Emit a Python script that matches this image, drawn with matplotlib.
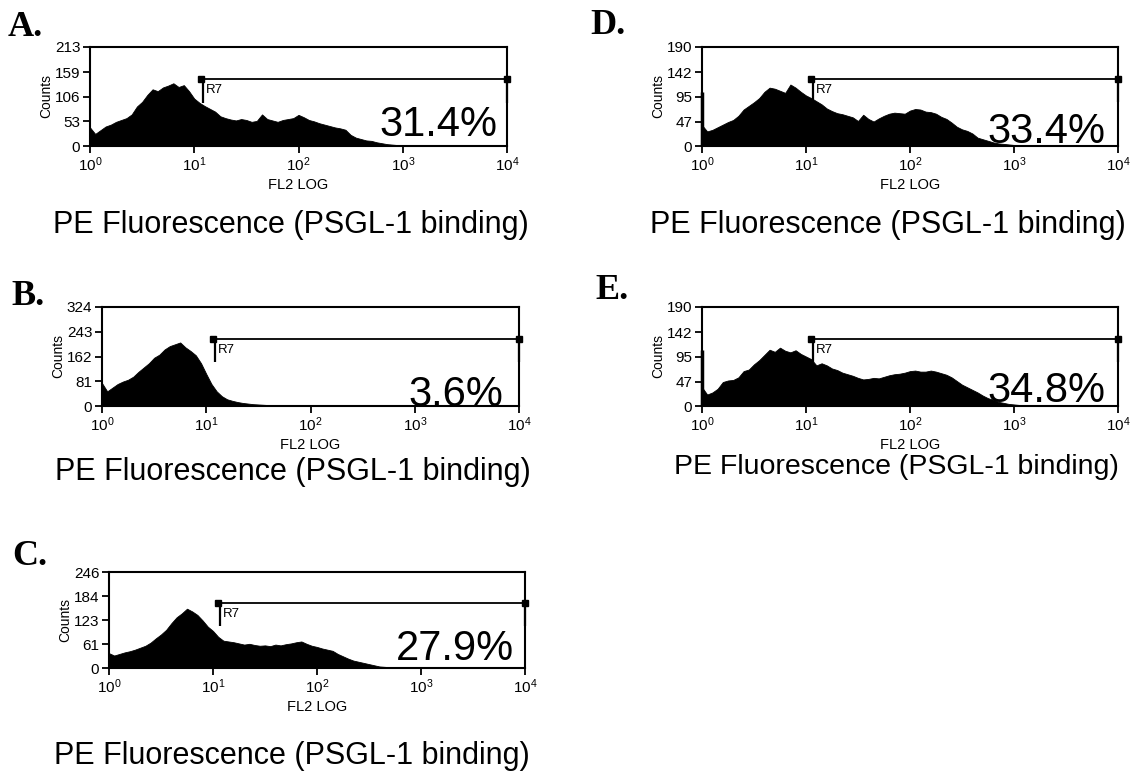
import matplotlib
matplotlib.use('Agg')
import matplotlib.pyplot as plt
from matplotlib.ticker import NullLocator
import numpy as np

plt.rcParams['font.family'] = 'Liberation Sans'
plt.rcParams['mathtext.fontset'] = 'custom'
plt.rcParams['mathtext.rm'] = 'Liberation Sans'

W, H = 1138, 771

# ---- data ----
panel_letters = ['A.', 'B.', 'C.', 'D.', 'E.']
percents = ['31.4%', '3.6%', '27.9%', '33.4%', '34.8%']
y_ticks = [
    [0, 53, 106, 159, 213],
    [0, 81, 162, 243, 324],
    [0, 61, 123, 184, 246],
    [0, 47, 95, 142, 190],
    [0, 47, 95, 142, 190],
]
x_ticks = [1, 10, 100, 1000, 10000]
x_tick_labels = [r'$\mathregular{10^{0}}$', r'$\mathregular{10^{1}}$', r'$\mathregular{10^{2}}$',
                 r'$\mathregular{10^{3}}$', r'$\mathregular{10^{4}}$']

# R7 gate: start channel, level, how far the end bars drop
gate_start = [11.5, 11.5, 11.2, 11.2, 11.2]
gate_level = [144, 219, 167, 128, 128]
gate_drop = [92, 144, 107, 85, 85]

# counts every 0.05 decade, starting at 10^0
counts_A = [40, 26, 34, 42, 46, 52, 56, 60, 68, 85, 95, 110, 122, 118, 126, 130, 135, 127, 131, 118,
            102, 93, 86, 80, 74, 64, 60, 57, 55, 58, 56, 52, 54, 68, 58, 55, 52, 56, 58, 60,
            67, 62, 56, 53, 49, 46, 43, 40, 38, 35, 24, 18, 15, 12, 11, 8, 6, 4, 3, 2, 1, 0]
counts_B = [75, 48, 60, 72, 80, 86, 96, 112, 126, 140, 158, 168, 185, 196, 202, 208, 192, 180, 166, 140,
            105, 72, 48, 32, 22, 17, 13, 10, 8, 6, 5, 4, 3, 2, 2, 1, 1, 1, 0]
counts_C = [38, 32, 36, 40, 43, 47, 52, 57, 65, 76, 86, 98, 115, 130, 140, 152, 145, 136, 122, 106,
            95, 80, 70, 68, 66, 63, 60, 62, 59, 57, 58, 56, 60, 58, 61, 63, 66, 68, 62, 57,
            54, 50, 47, 44, 36, 30, 24, 19, 16, 13, 10, 7, 4, 3, 2, 2, 1, 1, 1, 0]
counts_D = [40, 28, 31, 36, 41, 46, 50, 58, 70, 77, 84, 92, 104, 112, 110, 106, 102, 118, 112, 104,
            97, 92, 86, 80, 72, 67, 63, 61, 58, 55, 48, 60, 52, 47, 53, 58, 62, 64, 63, 62,
            68, 71, 70, 66, 65, 62, 56, 52, 45, 37, 32, 29, 24, 16, 13, 10, 7, 5, 4, 3,
            2, 1, 1, 0]
counts_E = [36, 22, 26, 33, 46, 49, 50, 55, 67, 70, 80, 88, 98, 108, 104, 112, 106, 103, 107, 100,
            95, 90, 78, 82, 78, 72, 69, 64, 61, 58, 54, 51, 52, 54, 53, 56, 59, 61, 62, 64,
            67, 68, 66, 66, 68, 66, 63, 60, 55, 48, 41, 36, 31, 26, 20, 15, 12, 8, 6, 4,
            3, 2, 1, 0]
all_counts = [counts_A, counts_B, counts_C, counts_D, counts_E]
# spike in the very first channel (D and E only)
first_channel = [None, None, None, 104, 107]

# ---- layout (pixels of the 1138x771 picture) ----
axes_px = [(90, 507, 47, 146), (102, 519, 307, 406), (109, 525, 572, 668),
           (702, 1118, 47, 146), (702, 1118, 307, 406)]
letter_px = [(8, 36), (11, 305), (12, 565), (590, 34), (595, 299)]
caption_px = [(291, 225, 22), (293, 472, 22), (292, 756, 22), (888, 225, 22), (896, 467, 20.5)]
pct_pos = [(0.978, 0.10), (0.962, 0.0), (0.974, 0.083), (0.969, 0.03), (0.969, 0.04)]


def fx(x):
    return x / W


def fy(y):
    return 1 - y / H


fig = plt.figure(figsize=(W / 100, H / 100), dpi=100)

for i in range(5):
    x0, x1, top, bot = axes_px[i]
    ax = fig.add_axes([fx(x0), fy(bot), (x1 - x0) / W, (bot - top) / H])
    vals = all_counts[i]
    xs = 10 ** (0.05 * np.arange(len(vals)))
    ax.fill_between(xs, 0, vals, color='black', linewidth=0.6, edgecolor='black')
    if first_channel[i] is not None:
        ax.vlines(1.0, 0, first_channel[i], color='black', linewidth=2.5, clip_on=False)

    # gate R7
    g0 = gate_start[i]
    ax.plot([g0, 10000], [gate_level[i], gate_level[i]], color='black', lw=1.3, clip_on=False)
    ax.plot([g0, 10000], [gate_level[i], gate_level[i]], 's', color='black', ms=4, clip_on=False)
    ax.vlines([g0 * 1.05, 10000], gate_drop[i], gate_level[i], color='black', lw=1.6, clip_on=False)
    ax.text(g0 * 1.12, gate_level[i] - 0.05 * y_ticks[i][-1], 'R7', fontsize=9.5, va='top', ha='left')

    px, py = pct_pos[i]
    ax.text(px, py, percents[i], transform=ax.transAxes, fontsize=30, ha='right', va='baseline')

    ax.set_xscale('log')
    ax.set_xlim(1, 10000)
    ax.set_ylim(0, y_ticks[i][-1])
    ax.set_xticks(x_ticks)
    ax.set_xticklabels(x_tick_labels)
    ax.xaxis.set_minor_locator(NullLocator())
    ax.set_yticks(y_ticks[i])
    ax.set_yticklabels([str(v) for v in y_ticks[i]])
    ax.tick_params(direction='out', length=5, width=1.3, labelsize=11, pad=2)
    for s in ax.spines.values():
        s.set_linewidth(1.5)
    ax.set_ylabel('Counts', fontsize=10, labelpad=1)
    ax.set_xlabel('FL2 LOG', fontsize=10.5, labelpad=3)

    lx, ly = letter_px[i]
    fig.text(fx(lx), fy(ly), panel_letters[i], family='Liberation Serif', weight='bold',
             fontsize=26, ha='left', va='baseline')
    cx, cy, cs = caption_px[i]
    fig.text(fx(cx), fy(cy), 'PE Fluorescence (PSGL-1 binding)', fontsize=cs,
             ha='center', va='center')

fig.savefig('out.png', dpi=100)
